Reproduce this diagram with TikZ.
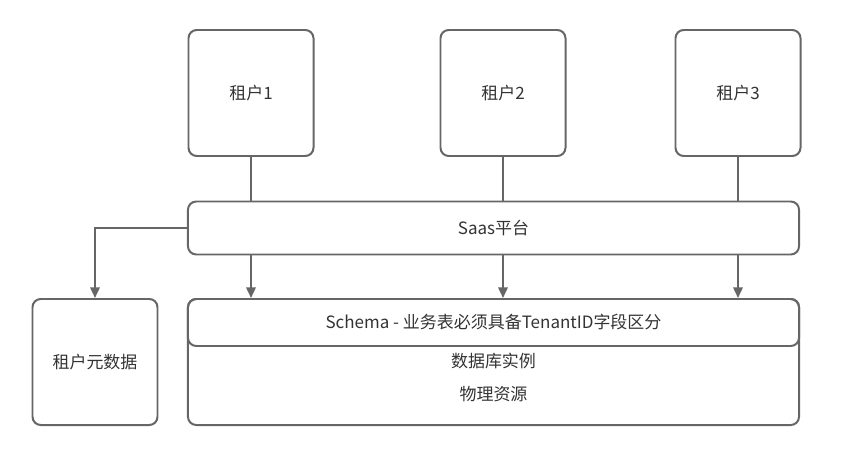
\documentclass[tikz,border=0pt]{standalone}
\usepackage{fontspec}
\setmainfont{Noto Sans CJK SC}
\usetikzlibrary{arrows.meta}
\definecolor{linegray}{HTML}{666666}
\definecolor{textgray}{HTML}{333333}

\begin{document}
\begin{tikzpicture}[x=0.03cm,y=-0.03cm,
	box/.style={draw=linegray, line width=1.7pt, rounded corners=7pt, text=textgray, font=\fontsize{14.5}{17}\selectfont},
	lbl/.style={text=textgray, font=\fontsize{14.5}{17}\selectfont},
	>={Triangle[length=9pt,width=8pt]}]
\useasboundingbox (0,0) rectangle (859,451);
\foreach \i/\x in {1/251,2/503,3/738}{
	\node[box, minimum width=3.75cm, minimum height=3.78cm] (t\i) at (\x,93) {租户\i};
	}
\node[box, minimum width=18.33cm, minimum height=1.59cm] (saas) at (493.5,228) {Saas平台};
\node[box, minimum width=18.33cm, minimum height=3.78cm] (db) at (493.5,362) {};
\node[box, minimum width=18.33cm, minimum height=1.41cm] (schema) at (493.5,322.5) {Schema - 业务表必须具备TenantID字段区分};
\node[lbl] (inst) at (493.5,361) {数据库实例};
\node[lbl] (res) at (493.5,394) {物理资源};
\node[box, minimum width=3.75cm, minimum height=3.78cm] (meta) at (95,362) {租户元数据};
\foreach \i in {1,2,3}{
	\draw[linegray, line width=1.7pt] (t\i.south) -- (t\i.south |- saas.north);
	\draw[linegray, line width=1.7pt, ->] (t\i.south |- saas.south) -- (t\i.south |- db.north);
	}
\draw[linegray, line width=1.7pt, ->] (saas.west) -| (meta.north);
\end{tikzpicture}
\end{document}
